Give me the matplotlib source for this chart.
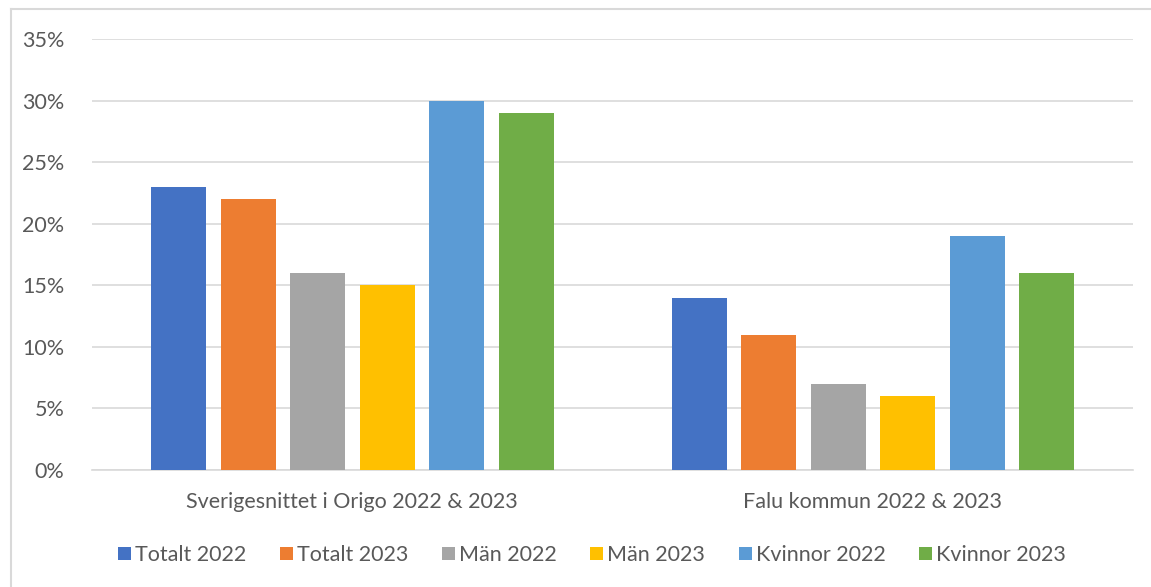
import matplotlib
matplotlib.use("Agg")
import matplotlib.pyplot as plt
from matplotlib.lines import Line2D
import numpy as np

categories = ["Sverigesnittet i Origo 2022 & 2023", "Falu kommun 2022 & 2023"]
series_names = ["Totalt 2022", "Totalt 2023", "Män 2022", "Män 2023", "Kvinnor 2022", "Kvinnor 2023"]
values = {
    "Totalt 2022": [23, 14],
    "Totalt 2023": [22, 11],
    "Män 2022": [16, 7],
    "Män 2023": [15, 6],
    "Kvinnor 2022": [30, 19],
    "Kvinnor 2023": [29, 16],
}
colors = ["#4472C4", "#ED7D31", "#A5A5A5", "#FFC000", "#5B9BD5", "#70AD47"]
yticks = [0, 5, 10, 15, 20, 25, 30, 35]

plt.rcParams['font.family'] = ['Lato', 'DejaVu Sans']

W, H = 1151, 587
fig = plt.figure(figsize=(W/100, H/100), dpi=100)
ax = fig.add_axes([92/W, 1 - 470/H, (1133-92)/W, (470-39)/H])

x = np.arange(len(categories))
slot = 69.5 / 520.5
bw = 55 / 520.5
for i, name in enumerate(series_names):
    off = (i - (len(series_names)-1)/2) * slot
    ax.bar(x + off, values[name], width=bw, color=colors[i], label=name, zorder=3)

fs = 15.5
ax.set_xlim(-0.5, len(categories)-0.5)
ax.set_ylim(0, 35)
ax.set_yticks(yticks)
ax.set_yticklabels([f"{t}%" for t in yticks], fontsize=fs, color="#595959")
ax.set_xticks(x)
ax.set_xticklabels(categories, fontsize=fs, color="#595959")
ax.tick_params(axis='both', length=0)
ax.tick_params(axis='y', pad=20)
ax.tick_params(axis='x', pad=16)
ax.grid(axis='y', color="#D9D9D9", linewidth=1.2, zorder=0)
for s in ["top", "right", "left"]:
    ax.spines[s].set_visible(False)
ax.spines["bottom"].set_color("#D9D9D9")
ax.spines["bottom"].set_linewidth(1.2)

leg = fig.legend(*ax.get_legend_handles_labels(), loc="center", bbox_to_anchor=(592/W, 1 - 555/H),
                 ncol=6, frameon=False, fontsize=fs, handlelength=0.6, handleheight=0.6,
                 handletextpad=0.2, columnspacing=1.55)
for t in leg.get_texts():
    t.set_color("#595959")

# chart border (top and left visible)
fig.add_artist(Line2D([11/W, 11/W], [0, 1 - 9/H], color="#D9D9D9", linewidth=1.5))
fig.add_artist(Line2D([11/W, 1], [1 - 9/H, 1 - 9/H], color="#D9D9D9", linewidth=1.5))

fig.savefig("out.png", dpi=100)
